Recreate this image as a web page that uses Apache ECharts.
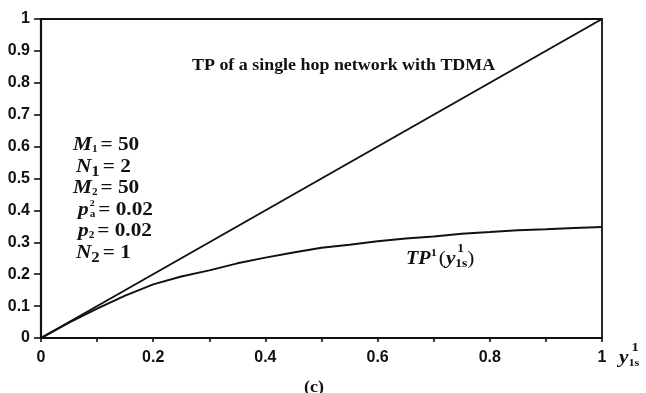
<!DOCTYPE html>
<html>
<head>
<meta charset="utf-8">
<script src="https://cdn.jsdelivr.net/npm/echarts@6/dist/echarts.min.js"></script>
<style>
  html, body { margin: 0; padding: 0; background: #fff; }
  #chart { width: 646px; height: 393px; }
</style>
</head>
<body>
<div id="chart"></div>
<script>
// Offered load y^1_1s (x axis)
const loadX = [0, 0.05, 0.1, 0.15, 0.2, 0.25, 0.3, 0.35, 0.4, 0.45, 0.5,
               0.55, 0.6, 0.65, 0.7, 0.75, 0.8, 0.85, 0.9, 0.95, 1.0];
// Throughput TP^1(y^1_1s) of the two-hop network
const tpTwoHop = [0, 0.048, 0.092, 0.133, 0.168, 0.193, 0.212, 0.234, 0.252, 0.268, 0.283,
                  0.292, 0.303, 0.312, 0.318, 0.327, 0.332, 0.338, 0.341, 0.345, 0.348];
// Throughput of a single hop network with TDMA (TP = y)
const singleHopX = [0, 1];
const singleHopTP = [0, 1];

const xTickLabels = ['0', '', '0.2', '', '0.4', '', '0.6', '', '0.8', '', '1'];
const yTickLabels = ['0', '0.1', '0.2', '0.3', '0.4', '0.5', '0.6', '0.7', '0.8', '0.9', '1'];

const titleText = 'TP of a single hop network with TDMA';
const panelText = '(c)';
// Network parameters listed on the left
const paramSymbols = ['M', 'N', 'M', 'p', 'p', 'N'];
const paramSups    = ['', '', '', '2', '', ''];
const paramSubs    = ['1', '1', '2', 'a', '2', '2'];
const paramValues  = ['50', '2', '50', '0.02', '0.02', '1'];

const INK = '#111';
const SERIF = '"Liberation Serif", "DejaVu Serif", serif';
const SANS = '"Liberation Sans", Arial, sans-serif';
const WIDEN = 1.12;   // horizontal stretch of the serif annotation glyphs

const measureCtx = document.createElement('canvas').getContext('2d');
function textWidth(t, f) {
  measureCtx.font = (f.style || 'normal') + ' ' + (f.weight || 'bold') + ' ' + f.size + 'px ' + SERIF;
  return measureCtx.measureText(t).width * WIDEN;
}
function textEl(t, x, y, f) {
  return {
    type: 'text', x: x, y: y, scaleX: WIDEN, silent: true,
    style: {
      text: t, fill: INK, fontFamily: SERIF, fontSize: f.size,
      fontWeight: f.weight || 'bold', fontStyle: f.style || 'normal',
      textAlign: 'left', textVerticalAlign: 'middle'
    }
  };
}
// Lays out pieces left to right; a piece with "stack" draws its entries on top of each other.
function formula(x, y, pieces) {
  const els = [];
  let cx = x;
  pieces.forEach(p => {
    if (p.stack) {
      let w = 0;
      p.stack.forEach(s => {
        els.push(textEl(s.t, cx + (s.dx || 0), y + (s.dy || 0), s));
        w = Math.max(w, textWidth(s.t, s) + (s.dx || 0));
      });
      cx += w + (p.gap || 0);
    } else {
      els.push(textEl(p.t, cx, y + (p.dy || 0), p));
      cx += textWidth(p.t, p) + (p.gap || 0);
    }
  });
  return els;
}

const graphics = [];
// title of the diagonal line
graphics.push(textEl(titleText, 192, 66, { size: 16 }));
// panel tag
graphics.push(textEl(panelText, 304, 388, { size: 16 }));

// parameter block
const paramRowY = [145, 167, 188, 210, 231, 253];
const paramRowX = [73, 76, 73, 78, 78, 76];
paramSymbols.forEach((sym, i) => {
  const pieces = [{ t: sym, size: 19, style: 'italic' }];
  if (paramSups[i]) {
    pieces.push({ stack: [
      { t: paramSups[i], size: 9, dy: -6, dx: 1 },
      { t: paramSubs[i], size: 10, dy: 4, dx: 1 }
    ], gap: 3 });
  } else {
    pieces.push({ t: paramSubs[i], size: sym === 'N' ? 15 : 10, dy: sym === 'N' ? 5 : 4, gap: 3 });
  }
  pieces.push({ t: '= ' + paramValues[i], size: 19 });
  formula(paramRowX[i], paramRowY[i], pieces).forEach(e => graphics.push(e));
});

// curve label TP^1(y^1_1s)
formula(406, 259, [
  { t: 'TP', size: 18, style: 'italic' },
  { t: '1', size: 11, dy: -6, gap: 2 },
  { t: '(', size: 19, weight: 'normal' },
  { t: 'y', size: 19, style: 'italic' },
  { stack: [
      { t: '1', size: 12, dy: -10, dx: 2 },
      { t: '1s', size: 12, dy: 5 }
    ] },
  { t: ')', size: 19, weight: 'normal' }
]).forEach(e => graphics.push(e));

// x axis name y^1_1s
formula(619, 358, [
  { t: 'y', size: 19, style: 'italic' },
  { stack: [
      { t: '1', size: 13, dy: -10, dx: 3 },
      { t: '1s', size: 11, dy: 5, dx: 0 }
    ] }
]).forEach(e => graphics.push(e));

const chart = echarts.init(document.getElementById('chart'), null, { renderer: 'canvas' });
chart.setOption({
  animation: false,
  backgroundColor: '#fff',
  grid: {
    left: 41, right: 44, top: 19, bottom: 55,
    show: true, borderColor: INK, borderWidth: 1.8, backgroundColor: 'transparent'
  },
  xAxis: {
    type: 'value', min: 0, max: 1, interval: 0.1,
    axisLine: { show: true, lineStyle: { color: INK, width: 2.2 } },
    axisTick: { show: true, length: 4, lineStyle: { color: INK, width: 1.6 } },
    splitLine: { show: false },
    axisLabel: {
      margin: 12, color: INK, fontFamily: SANS, fontSize: 16, fontWeight: 'bold',
      formatter: v => xTickLabels[Math.round(v * 10)]
    }
  },
  yAxis: {
    type: 'value', min: 0, max: 1, interval: 0.1,
    axisLine: { show: true, lineStyle: { color: INK, width: 2.2 } },
    axisTick: { show: true, length: 7, lineStyle: { color: INK, width: 1.6 } },
    splitLine: { show: false },
    axisLabel: {
      margin: 11, color: INK, fontFamily: SANS, fontSize: 16, fontWeight: 'bold',
      formatter: v => yTickLabels[Math.round(v * 10)]
    }
  },
  series: [
    {
      type: 'line', name: titleText, showSymbol: false, symbol: 'none',
      data: singleHopX.map((x, i) => [x, singleHopTP[i]]),
      lineStyle: { color: INK, width: 2 }
    },
    {
      type: 'line', name: 'TP1', showSymbol: false, symbol: 'none', smooth: false,
      data: loadX.map((x, i) => [x, tpTwoHop[i]]),
      lineStyle: { color: INK, width: 2 }
    }
  ],
  graphic: graphics
});
</script>
</body>
</html>
